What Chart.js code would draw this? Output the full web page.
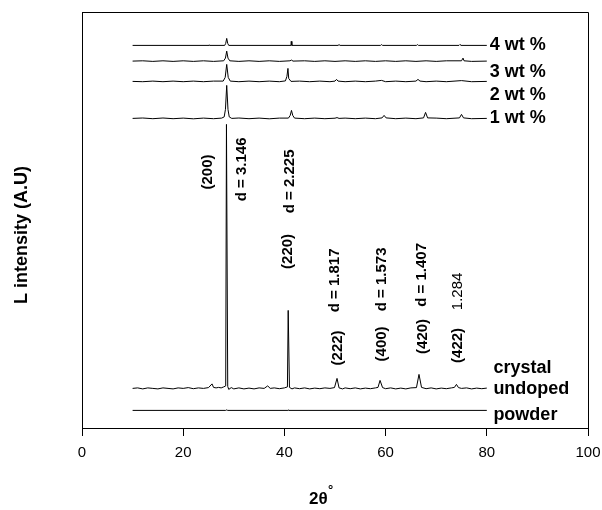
<!DOCTYPE html>
<html lang="en">
<head>
<meta charset="UTF-8">
<title>XRD patterns</title>
<script src="https://cdn.jsdelivr.net/npm/chart.js"></script>
<style>
    body { margin: 0; background: #fff; }
    #wrap { width: 602px; height: 510px; }
</style>
</head>
<body>
<div id="wrap"><canvas id="xrd" width="602" height="510"></canvas></div>
<script>
    // 2-theta axis ticks
    const xTicks = [0, 20, 40, 60, 80, 100];

    // each pattern is [2theta, relative intensity], shifted up by its stack offset
    const powder = [[10, 0], [28.4, 0], [28.6, 0.5], [28.8, 0], [40.7, 0], [40.8, 0.4], [40.9, 0], [80, 0]];

    const crystal = [
        [10, 0], [11, 0.5], [12, -0.5], [13, 0.5], [14, 0], [15, -0.5], [16, 0.5], [17, 0], [18, -0.5],
        [19, 0.5], [20, 0], [21, 0.8], [22, -0.3], [23, 0.5], [24, 0], [25, 0.8], [25.7, 4.5], [26, 1],
        [26.5, 0.5], [27, 1], [27.5, 0.5], [28, 1.5], [28.4, 2.5], [28.55, 264], [28.65, 264], [28.8, 2],
        [29, -1], [29.5, 0.8], [30, -0.5], [31, 0.5], [32, -0.5], [33, 0.3], [34, -0.5], [35, 0.5], [36, 0],
        [36.7, 2.5], [37.2, 0], [38, 0.5], [39, -0.3], [40, 0.5], [40.6, 1.5], [40.75, 78], [40.85, 78],
        [41.0, 1], [41.5, -0.5], [42, 0.5], [43, -0.3], [44, 0.5], [45, -0.5], [46, 0.3], [47, -0.3],
        [48, 0.5], [49, 0], [49.9, 0.8], [50.4, 10], [50.8, 0.5], [51.5, -0.5], [52, 0.5], [53, -0.3],
        [54, 0.5], [55, -0.5], [56, 0.3], [57, -0.3], [58, 0.5], [58.5, 1], [58.9, 8], [59.4, 0.8],
        [60, -0.3], [61, 0.5], [62, -0.5], [63, 0.3], [64, -0.5], [65, 0.5], [66.1, 0.8], [66.6, 14],
        [67.1, 1], [68, -0.3], [69, 0.5], [70, -0.5], [71, 0.3], [72, -0.3], [73, 0.5], [73.6, 1], [74, 4],
        [74.4, 0.8], [75, 0], [76, 0.5], [77, -0.5], [78, 0.3], [79, -0.3], [80, 0.3]
    ];

    const wt1 = [
        [10, 0], [12, 0.4], [14, -0.3], [16, 0.4], [18, -0.3], [20, 0.3], [22, -0.4], [24, 0.3], [26, -0.3],
        [27.6, 0.3], [28.1, 1.5], [28.35, 9], [28.6, 33], [28.85, 9], [29.1, 1.5], [29.6, 0], [31, 0.4],
        [33, -0.3], [35, 0.3], [37, -0.4], [39, 0.3], [40.8, 0.3], [41.15, 3], [41.4, 8], [41.65, 3],
        [42, 0.3], [44, -0.3], [46, 0.3], [48, -0.3], [50, 0.2], [50.4, 0.8], [50.8, 0], [52, 0.3],
        [54, -0.3], [56, 0.3], [58, -0.3], [59.3, 0.5], [59.7, 3], [60.1, 0.5], [62, -0.3], [64, 0.3],
        [66, -0.3], [67.5, 0.5], [67.9, 6], [68.3, 0.5], [70, 0.3], [72, -0.3], [74.6, 0.5], [75, 4],
        [75.4, 0.5], [77, -0.3], [80, 0]
    ];

    const wt2 = [
        [10, 0], [12, -0.3], [14, 0.3], [16, -0.3], [18, 0.3], [20, -0.3], [22, 0.3], [24, -0.3], [26, 0.3],
        [27.9, 0.3], [28.3, 4], [28.6, 17], [28.9, 4], [29.3, 0.3], [31, -0.3], [33, 0.3], [35, -0.3],
        [37, 0.3], [39, -0.3], [40.2, 0.5], [40.5, 5], [40.7, 13], [40.85, 3], [41.3, 0], [43, 0.3],
        [45, -0.3], [47, 0.3], [49, -0.3], [50, 0.3], [50.3, 2], [50.6, 0.3], [52, -0.3], [54, 0.3],
        [56, -0.3], [58, 0.3], [59.2, 1], [60, -0.3], [62, 0.3], [64, -0.3], [66, 0.3], [66.4, 2],
        [66.8, 0.3], [68, -0.3], [70, 0.3], [72, -0.3], [75, 0.8], [77, -0.3], [80, 0]
    ];

    const wt3 = [
        [10, 0], [12, 0.3], [14, -0.3], [16, 0.3], [18, -0.3], [20, 0.3], [22, -0.3], [24, 0.3], [26, -0.3],
        [28, 0.3], [28.35, 3], [28.6, 10], [28.85, 3], [29.2, 0.3], [31, -0.3], [33, 0.3], [35, -0.3],
        [37, 0.3], [39, -0.3], [41.1, 0.3], [41.4, 1], [41.7, 0], [44, 0.3], [46, -0.3], [48, 0.3],
        [50, -0.3], [52, 0.3], [54, -0.3], [56, 0.3], [58, -0.3], [60, 0.3], [62, -0.3], [64, 0.3],
        [66, -0.3], [68, 0.3], [70, -0.3], [72, 0.3], [75, 0.3], [75.3, 3], [75.5, 0.3], [77, -0.3], [80, 0]
    ];

    const wt4 = [
        [10, 0], [25.1, 0], [25.2, 0.6], [25.3, 0], [28.2, 0], [28.4, 2], [28.6, 7], [28.8, 2], [29, 0],
        [41.3, 0], [41.35, 4], [41.45, 4], [41.5, 0], [50.6, 0], [50.8, 0.8], [51, 0], [59, 0], [59.2, 0.8],
        [59.4, 0], [66.1, 0], [66.3, 0.8], [66.5, 0], [74.5, 0], [74.7, 1], [74.9, 0], [80, 0]
    ];

    const patterns = [powder, crystal, wt1, wt2, wt3, wt4];
    const stackOffsets = [17.6, 39.6, 309.6, 346.6, 366.9, 382.6];

    // reflections: Miller indices and d-spacings, anchored at [2theta, height]
    const hklText = ['(200)', '(220)', '(222)', '(400)', '(420)', '(422)'];
    const hklAt = [[24.9, 256], [40.7, 176.6], [50.6, 80.1], [59.2, 84.1], [67.3, 91.6], [74.3, 82.6]];
    const dText = ['d = 3.146', 'd = 2.225', 'd = 1.817', 'd = 1.573', 'd = 1.407', '1.284'];
    const dAt = [[31.5, 258.6], [41.0, 246.6], [49.9, 147.6], [59.2, 148.6], [67.1, 153.1], [74.3, 136.6]];

    // sample names at the right end of each pattern
    const sampleText = ['4 wt %', '3 wt %', '2 wt %', '1 wt %', 'crystal', 'undoped', 'powder'];
    const sampleAt = [[80.6, 382.6], [80.6, 355.9], [80.6, 332.6], [80.6, 310.3], [81.3, 59.6], [81.3, 38.6], [81.3, 12.6]];

    const FONT = '"Liberation Sans", Arial, sans-serif';

    const datasets = patterns.map((p, i) => ({
        data: p.map(([t, v]) => ({ x: t, y: v + stackOffsets[i] })),
        showLine: true,
        borderColor: '#000',
        borderWidth: 1,
        pointRadius: 0
    }));

    const annotate = {
        id: 'annotate',
        afterDraw(chart) {
            const { ctx, chartArea: a, scales: { x, y } } = chart;
            ctx.save();
            // close the box on top and right
            ctx.strokeStyle = '#000';
            ctx.lineWidth = 1;
            ctx.beginPath();
            ctx.moveTo(a.left, Math.round(a.top) + 0.5);
            ctx.lineTo(Math.round(a.right) + 0.5, Math.round(a.top) + 0.5);
            ctx.lineTo(Math.round(a.right) + 0.5, a.bottom);
            ctx.stroke();

            ctx.fillStyle = '#000';
            ctx.textAlign = 'center';
            ctx.textBaseline = 'middle';
            const rotated = (text, at, bold) => {
                ctx.save();
                ctx.translate(x.getPixelForValue(at[0]), y.getPixelForValue(at[1]));
                ctx.rotate(-Math.PI / 2);
                ctx.font = (bold ? 'bold ' : '') + '15px ' + FONT;
                ctx.fillText(text, 0, 0);
                ctx.restore();
            };
            hklText.forEach((t, i) => rotated(t, hklAt[i], true));
            dText.forEach((t, i) => rotated(t, dAt[i], t.startsWith('d')));

            ctx.textAlign = 'left';
            ctx.font = 'bold 18px ' + FONT;
            sampleText.forEach((t, i) => {
                ctx.fillText(t, x.getPixelForValue(sampleAt[i][0]), y.getPixelForValue(sampleAt[i][1]));
            });

            // axis titles
            ctx.save();
            ctx.translate(22, 235);
            ctx.rotate(-Math.PI / 2);
            ctx.textAlign = 'center';
            ctx.font = 'bold 18px ' + FONT;
            ctx.fillText('L intensity (A.U)', 0, 0);
            ctx.restore();

            ctx.textAlign = 'left';
            ctx.font = 'bold 17px ' + FONT;
            ctx.fillText('2θ', 309, 499);
            ctx.font = 'bold 13px ' + FONT;
            ctx.fillText('°', 328, 490);
            ctx.restore();
        }
    };

    new Chart(document.getElementById('xrd'), {
        type: 'scatter',
        data: { datasets },
        options: {
            responsive: false,
            animation: false,
            devicePixelRatio: 1,
            layout: { padding: { top: 12, right: 14, left: 0, bottom: 0 } },
            plugins: { legend: { display: false }, tooltip: { enabled: false } },
            scales: {
                x: {
                    type: 'linear',
                    min: 0,
                    max: 100,
                    afterBuildTicks: s => { s.ticks = xTicks.map(v => ({ value: v })); },
                    ticks: { color: '#000', font: { family: FONT, size: 15 }, padding: 8, maxRotation: 0 },
                    grid: { display: true, drawOnChartArea: false, drawTicks: true, tickLength: 8, color: '#000' },
                    border: { display: true, color: '#000', width: 1 },
                    afterFit: s => { s.height = 82; s.paddingLeft = 0; s.paddingRight = 0; }
                },
                y: {
                    min: 0,
                    max: 416,
                    ticks: { display: false },
                    grid: { display: false },
                    border: { display: true, color: '#000', width: 1 },
                    afterFit: s => { s.width = 82; }
                }
            }
        },
        plugins: [annotate]
    });
</script>
</body>
</html>
